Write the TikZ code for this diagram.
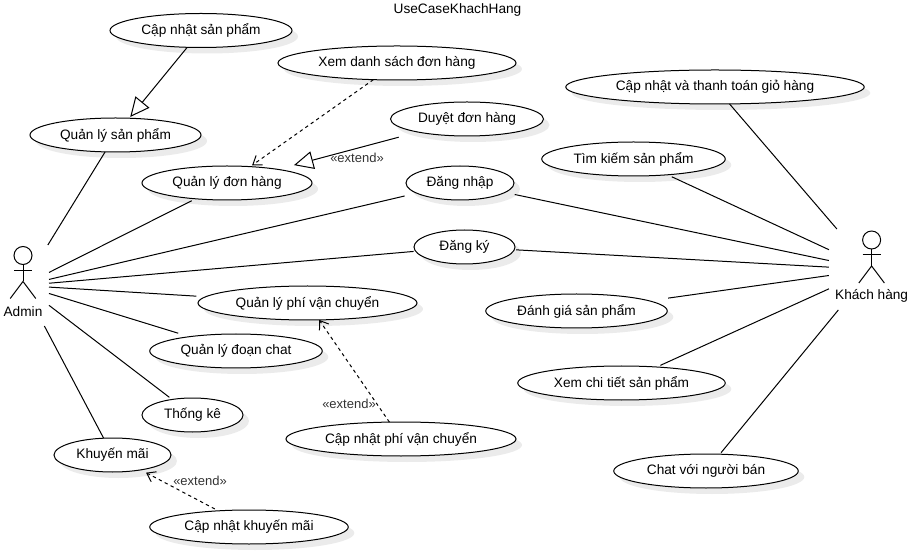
\documentclass[tikz,border=0pt]{standalone}
\usepackage{fontspec}
\setmainfont{Liberation Sans}
\usetikzlibrary{arrows.meta,shapes.geometric,shadows}

\definecolor{labelgray}{HTML}{333333}

\tikzset{
    usecase/.style={draw, ellipse, fill=white, line width=0.75pt, inner sep=0pt, outer sep=0pt,
        minimum width=#1*0.75pt, minimum height=25.5pt, font=\fontsize{10.25}{12}\selectfont,
        general shadow={fill=black!8, shadow xshift=4.5pt, shadow yshift=-4.5pt}},
    actorbox/.style={inner sep=0pt, outer sep=0pt, minimum height=60.75pt, minimum width=#1*0.75pt},
    actorname/.style={inner sep=0pt, font=\fontsize{10.25}{12}\selectfont},
    assoc/.style={line width=0.75pt},
    inherit/.style={line width=0.75pt, -{Triangle[open, length=14.5pt, width=13.5pt]}},
    extendline/.style={line width=0.75pt, dash pattern=on 2.5pt off 2.5pt,
        -{Straight Barb[length=6pt, width=8.5pt, line width=0.75pt]}},
    extendname/.style={inner sep=0pt, text=labelgray, font=\fontsize{9.75}{12}\selectfont},
    stickman/.pic={
        \draw[line width=0.75pt] (0,0) circle[radius=6.75pt];
        \draw[line width=0.75pt] (0,9) -- (0,26);
        \draw[line width=0.75pt] (-9,15) -- (9,15);
        \draw[line width=0.75pt] (-12.8,43) -- (0,26) -- (12.8,43);
    }
}

\begin{document}
\begin{tikzpicture}[x=0.75pt, y=-0.75pt]
    \useasboundingbox (0,0) rectangle (916,555);

    % Title
    \node[inner sep=0pt, font=\fontsize{10.25}{12}\selectfont] (title) at (457.5,10) {UseCaseKhachHang};

    % Actors
    \node[actorbox=52] (admin) at (23,285.5) {};
    \pic at (23,255.5) {stickman};
    \node[actorname] (adminname) at (23,312) {Admin};

    \node[actorbox=85.4] (khachhang) at (871.6,269.5) {};
    \pic at (871.6,240) {stickman};
    \node[actorname] (khachhangname) at (871.6,296) {Khách hàng};

    % Use cases of the admin
    \node[usecase=182] (capnhatsp) at (201,30.5) {Cập nhật sản phẩm};
    \node[usecase=171] (quanlysp) at (115.5,135) {Quản lý sản phẩm};
    \node[usecase=238] (xemdsdon) at (397,63) {Xem danh sách đơn hàng};
    \node[usecase=153] (duyetdon) at (467,119) {Duyệt đơn hàng};
    \node[usecase=170] (quanlydon) at (227,183) {Quản lý đơn hàng};
    \node[usecase=219] (quanlyphi) at (307.5,303) {Quản lý phí vận chuyển};
    \node[usecase=172.5] (quanlychat) at (236,351) {Quản lý đoạn chat};
    \node[usecase=101] (thongke) at (192.5,415) {Thống kê};
    \node[usecase=117] (khuyenmai) at (112.5,455) {Khuyến mãi};
    \node[usecase=198.5] (capnhatkm) at (249,527) {Cập nhật khuyến mãi};
    \node[usecase=230] (capnhatphi) at (401,439) {Cập nhật phí vận chuyển};

    % Shared use cases
    \node[usecase=108] (dangnhap) at (460,183) {Đăng nhập};
    \node[usecase=101] (dangky) at (464.5,247) {Đăng ký};

    % Use cases of the customer
    \node[usecase=298.5] (giohang) at (715,87) {Cập nhật và thanh toán giỏ hàng};
    \node[usecase=183.5] (timkiem) at (633.5,159) {Tìm kiếm sản phẩm};
    \node[usecase=181.5] (danhgia) at (576.5,311) {Đánh giá sản phẩm};
    \node[usecase=207.5] (xemchitiet) at (621.5,383) {Xem chi tiết sản phẩm};
    \node[usecase=184.5] (chatban) at (706,471) {Chat với người bán};

    % Admin associations, each with the gap it leaves before the use case
    \foreach \target/\gap in {quanlysp/0, quanlydon/3.2, dangnhap/9.3, dangky/1.5, quanlyphi/7, quanlychat/8.8, thongke/2.6, khuyenmai/0}
        \draw[assoc, shorten >=\gap pt] (admin) -- (\target);

    % Customer associations
    \foreach \target/\gap in {giohang/0, timkiem/3.5, dangnhap/7.5, dangky/1.3, danhgia/14.4, xemchitiet/3, chatban/1.5}
        \draw[assoc, shorten >=\gap pt] (khachhang) -- (\target);

    % Generalisation and extend relations
    \draw[inherit, shorten >=1.2pt] (capnhatsp) -- (quanlysp);
    \draw[extendline, shorten >=1.8pt] (xemdsdon) -- (quanlydon);
    \draw[inherit, shorten <=15pt, shorten >=12.4pt] (duyetdon) -- (quanlydon);
    \draw[extendline] (capnhatphi) -- (quanlyphi);
    \draw[extendline, shorten <=3pt, shorten >=4.5pt] (capnhatkm) -- (khuyenmai);

    % Extend labels
    \node[extendname] (extenddon) at (357,157.5) {«extend»};
    \node[extendname] (extendphi) at (349,403.5) {«extend»};
    \node[extendname] (extendkm) at (200,480.5) {«extend»};
\end{tikzpicture}
\end{document}
